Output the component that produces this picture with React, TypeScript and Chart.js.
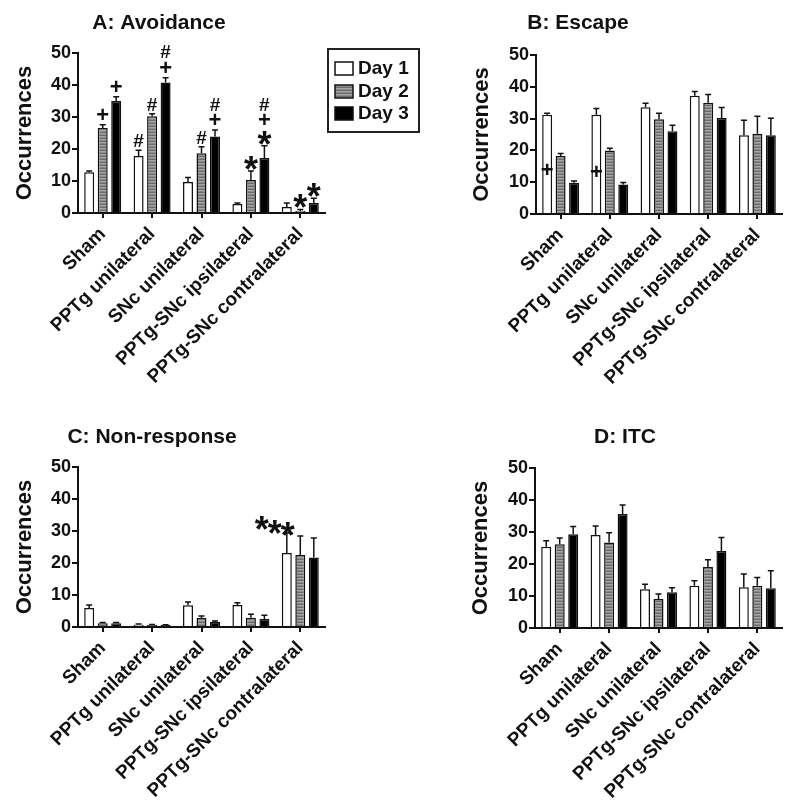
import React, { useEffect, useRef } from 'react';
import { Chart, registerables } from 'chart.js';
Chart.register(...registerables);

const FONT = '"Liberation Sans", Arial, sans-serif';

const categories = ['Sham', 'PPTg unilateral', 'SNc unilateral', 'PPTg-SNc ipsilateral', 'PPTg-SNc contralateral'];
const dayLabels = ['Day 1', 'Day 2', 'Day 3'];
const yMin = 0;
const yMax = 50;
const yStep = 10;
const yTitle = 'Occurrences';

// A: Avoidance
const avoidDay1 = [12.7, 17.8, 9.7, 2.8, 1.9];
const avoidDay2 = [26.6, 30.2, 18.7, 10.3, 0.6];
const avoidDay3 = [35.0, 40.8, 23.9, 17.2, 3.1];
const avoidErr1 = [0.4, 1.8, 1.4, 0.3, 1.2];
const avoidErr2 = [1.0, 0.8, 2.0, 2.8, 0.5];
const avoidErr3 = [1.3, 1.5, 2.0, 3.8, 1.5];

// B: Escape
const escDay1 = [31.2, 31.2, 33.6, 37.2, 24.8];
const escDay2 = [18.2, 20.0, 29.8, 35.0, 25.2];
const escDay3 = [9.8, 9.3, 26.0, 30.2, 24.8];
const escErr1 = [0.5, 2.0, 1.2, 1.3, 4.7];
const escErr2 = [0.8, 0.7, 1.9, 2.6, 5.5];
const escErr3 = [0.6, 0.6, 1.9, 3.3, 5.3];

// C: Non-response
const nonDay1 = [5.9, 0.7, 6.8, 6.9, 23.1];
const nonDay2 = [1.2, 0.6, 2.8, 2.9, 22.5];
const nonDay3 = [1.2, 0.6, 1.6, 2.5, 21.7];
const nonErr1 = [1.0, 0.2, 1.0, 0.7, 6.3];
const nonErr2 = [0.2, 0.2, 0.6, 1.1, 5.9];
const nonErr3 = [0.2, 0.1, 0.3, 1.2, 6.1];

// D: ITC
const itcDay1 = [25.4, 29.1, 12.1, 13.2, 12.7];
const itcDay2 = [26.2, 26.7, 9.1, 19.1, 13.2];
const itcDay3 = [29.3, 35.6, 11.2, 24.1, 12.4];
const itcErr1 = [1.9, 2.8, 1.6, 1.6, 4.2];
const itcErr2 = [1.9, 3.1, 1.5, 2.2, 2.6];
const itcErr3 = [2.4, 2.8, 1.4, 4.2, 5.5];

type Mark = { cat: number; day: number; text: string; at?: number; dx?: number; dy?: number };

const avoidMarks: Mark[] = [
  { cat: 0, day: 1, text: '+' }, { cat: 0, day: 2, text: '+' },
  { cat: 1, day: 0, text: '#' }, { cat: 1, day: 1, text: '#' },
  { cat: 1, day: 2, text: '+' }, { cat: 1, day: 2, text: '#' },
  { cat: 2, day: 1, text: '#' }, { cat: 2, day: 2, text: '+' }, { cat: 2, day: 2, text: '#' },
  { cat: 3, day: 1, text: '*' }, { cat: 3, day: 2, text: '*' }, { cat: 3, day: 2, text: '+' }, { cat: 3, day: 2, text: '#' },
  { cat: 4, day: 1, text: '*' }, { cat: 4, day: 2, text: '*' },
];
const escMarks: Mark[] = [
  { cat: 0, day: 0, text: '+', at: 13.8 },
  { cat: 1, day: 0, text: '+', at: 13.4 },
];
const nonMarks: Mark[] = [
  { cat: 4, day: 0, text: '*', dx: -25, dy: -2 },
  { cat: 4, day: 0, text: '*', dx: -12, dy: 2 },
  { cat: 4, day: 0, text: '*', dx: 1, dy: 4 },
];
const itcMarks: Mark[] = [];

type PanelCfg = {
  title: string; titleX: number; titleY: number;
  values: number[][]; errors: number[][]; marks: Mark[]; legend?: boolean;
  padLeft: number; axisW: number; top: number; bottom: number; right: number;
  width: number; height: number; left: number; canvasTop: number; z: number;
};

function makeStripe(): CanvasPattern | string {
  const c = document.createElement('canvas');
  c.width = 4; c.height = 3;
  const g = c.getContext('2d');
  if (!g) return '#888';
  g.fillStyle = '#6c6c6c'; g.fillRect(0, 0, 4, 1);
  g.fillStyle = '#a4a4a4'; g.fillRect(0, 1, 4, 1);
  g.fillStyle = '#8a8a8a'; g.fillRect(0, 2, 4, 1);
  return g.createPattern(c, 'repeat') || '#888';
}

const glyph: Record<string, { size: number; k: number }> = {
  '+': { size: 22, k: 0.33 },
  '#': { size: 19, k: 0.36 },
  '*': { size: 36, k: 0.58 },
};

function Panel({ cfg }: { cfg: PanelCfg }) {
  const ref = useRef<HTMLCanvasElement>(null);
  useEffect(() => {
    if (!ref.current) return;
    const stripe = makeStripe();
    const fills: any[] = ['#ffffff', stripe, '#000000'];
    const decor = {
      id: 'decor',
      afterDatasetsDraw(chart: any) {
        const ctx = chart.ctx as CanvasRenderingContext2D;
        const ys = chart.scales.y;
        ctx.save();
        ctx.strokeStyle = '#111';
        ctx.lineWidth = 1.5;
        cfg.errors.forEach((errs, di) => {
          const meta = chart.getDatasetMeta(di);
          meta.data.forEach((bar: any, j: number) => {
            const v = cfg.values[di][j];
            const e = errs[j];
            const yTop = ys.getPixelForValue(v);
            const yE = ys.getPixelForValue(v + e);
            ctx.beginPath();
            ctx.moveTo(bar.x, yTop);
            ctx.lineTo(bar.x, yE);
            ctx.moveTo(bar.x - 3, yE);
            ctx.lineTo(bar.x + 3, yE);
            ctx.stroke();
          });
        });
        const stackCount: Record<string, number> = {};
        ctx.fillStyle = '#111';
        ctx.textAlign = 'center';
        ctx.textBaseline = 'alphabetic';
        cfg.marks.forEach((m) => {
          const bar: any = chart.getDatasetMeta(m.day).data[m.cat];
          const v = cfg.values[m.day][m.cat];
          const e = cfg.errors[m.day][m.cat];
          let cy: number;
          if (m.at !== undefined) {
            cy = ys.getPixelForValue(m.at);
          } else if (m.dx !== undefined) {
            cy = ys.getPixelForValue(v + e) - 10 + (m.dy || 0);
          } else {
            const key = m.day + '-' + m.cat;
            const s = stackCount[key] || 0;
            stackCount[key] = s + 1;
            cy = ys.getPixelForValue(v + e) - 10 - 16 * s;
          }
          const g = glyph[m.text];
          ctx.font = 'bold ' + g.size + 'px ' + FONT;
          ctx.fillText(m.text, bar.x + (m.dx || 0), cy + g.k * g.size);
        });
        ctx.font = 'bold 21px ' + FONT;
        ctx.textBaseline = 'middle';
        ctx.fillText(cfg.title, cfg.titleX, cfg.titleY);
        if (cfg.legend) {
          ctx.lineWidth = 2;
          ctx.strokeStyle = '#222';
          ctx.strokeRect(328, 49, 91, 83);
          const rows = [68, 91, 113];
          rows.forEach((ry, i) => {
            ctx.fillStyle = fills[i];
            ctx.fillRect(335, ry - 6, 18, 13);
            ctx.lineWidth = 1.5;
            ctx.strokeStyle = '#111';
            ctx.strokeRect(335, ry - 6, 18, 13);
            ctx.fillStyle = '#111';
            ctx.font = 'bold 19px ' + FONT;
            ctx.textAlign = 'left';
            ctx.fillText(dayLabels[i], 358, ry + 1);
          });
        }
        ctx.restore();
      },
    };
    const chart = new Chart(ref.current, {
      type: 'bar',
      data: {
        labels: categories,
        datasets: cfg.values.map((vals, i) => ({
          label: dayLabels[i],
          data: vals,
          backgroundColor: fills[i],
          borderColor: '#111',
          borderWidth: 1.5,
          categoryPercentage: 0.82,
          barPercentage: 0.74,
        })),
      },
      options: {
        responsive: false,
        animation: false,
        devicePixelRatio: 1,
        layout: { padding: { left: cfg.padLeft, top: cfg.top, right: cfg.width - cfg.right, bottom: 0 } },
        plugins: { legend: { display: false }, title: { display: false }, tooltip: { enabled: false } },
        scales: {
          x: {
            type: 'category',
            offset: true,
            border: { display: true, color: '#111', width: 2 },
            grid: { offset: false, drawOnChartArea: false, drawTicks: true, tickLength: 5, color: '#111', lineWidth: 2 },
            ticks: {
              autoSkip: false, maxRotation: 45, minRotation: 45, padding: 5, color: '#111',
              font: { family: FONT, size: 19, weight: 'bold' },
            },
            afterFit: (s: any) => { s.height = cfg.height - cfg.bottom; },
          },
          y: {
            min: yMin, max: yMax,
            border: { display: true, color: '#111', width: 2 },
            grid: { drawOnChartArea: false, drawTicks: true, tickLength: 6, color: '#111', lineWidth: 2 },
            ticks: { stepSize: yStep, padding: 1, color: '#111', font: { family: FONT, size: 18, weight: 'bold' } },
            title: {
              display: true, text: yTitle, color: '#111', padding: { top: 12, bottom: 0 },
              font: { family: FONT, size: 22, weight: 'bold' },
            },
            afterFit: (s: any) => { s.width = cfg.axisW; },
          },
        },
      } as any,
      plugins: [decor],
    });
    return () => chart.destroy();
  }, [cfg]);
  return (
    <canvas
      ref={ref}
      width={cfg.width}
      height={cfg.height}
      style={{ position: 'absolute', left: cfg.left, top: cfg.canvasTop, width: cfg.width, height: cfg.height, zIndex: cfg.z }}
    />
  );
}

const panels: PanelCfg[] = [
  {
    title: 'A: Avoidance', titleX: 159, titleY: 23,
    values: [avoidDay1, avoidDay2, avoidDay3], errors: [avoidErr1, avoidErr2, avoidErr3], marks: avoidMarks, legend: true,
    padLeft: 0, axisW: 78, top: 53, bottom: 213, right: 325, width: 430, height: 406, left: 0, canvasTop: 0, z: 2,
  },
  {
    title: 'B: Escape', titleX: 178, titleY: 23,
    values: [escDay1, escDay2, escDay3], errors: [escErr1, escErr2, escErr3], marks: escMarks,
    padLeft: 57, axisW: 79, top: 55, bottom: 214, right: 382, width: 400, height: 406, left: 400, canvasTop: 0, z: 1,
  },
  {
    title: 'C: Non-response', titleX: 152, titleY: 31,
    values: [nonDay1, nonDay2, nonDay3], errors: [nonErr1, nonErr2, nonErr3], marks: nonMarks,
    padLeft: 0, axisW: 78, top: 61, bottom: 221, right: 325, width: 400, height: 406, left: 0, canvasTop: 406, z: 1,
  },
  {
    title: 'D: ITC', titleX: 225, titleY: 31,
    values: [itcDay1, itcDay2, itcDay3], errors: [itcErr1, itcErr2, itcErr3], marks: itcMarks,
    padLeft: 56, axisW: 79, top: 62, bottom: 222, right: 382, width: 400, height: 406, left: 400, canvasTop: 406, z: 1,
  },
];

export default function App() {
  return (
    <div style={{ position: 'absolute', left: 0, top: 0, width: 800, height: 812, background: '#fff' }}>
      {panels.map((p) => <Panel key={p.title} cfg={p} />)}
    </div>
  );
}
